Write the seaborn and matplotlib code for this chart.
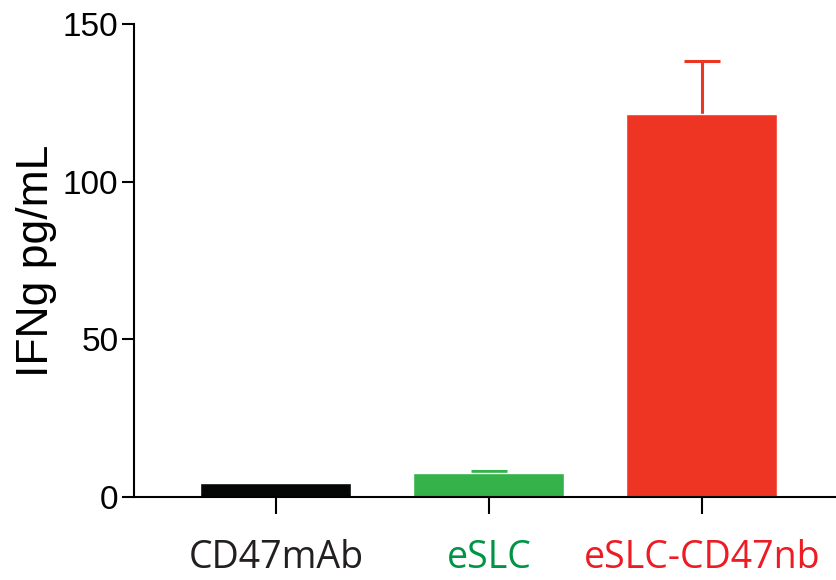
import matplotlib
matplotlib.use("Agg")
import matplotlib.pyplot as plt
import seaborn as sns
import pandas as pd
import numpy as np

groups = ["CD47mAb", "eSLC", "eSLC-CD47nb"]
ifng_mean = [4.6, 7.7, 121.5]
ifng_err = [0.0, 0.6, 16.8]
bar_colors = ["#050706", "#35b34a", "#ee3524"]
label_colors = ["#231f20", "#009444", "#ed1c24"]

df = pd.DataFrame({"group": groups, "ifng": ifng_mean})

sns.set_style("ticks", {"axes.edgecolor": "black", "text.color": "black",
                        "xtick.color": "black", "ytick.color": "black",
                        "axes.labelcolor": "black"})
fig = plt.figure(figsize=(8.36, 5.8), dpi=100)
ax = fig.add_axes([0.160, 0.143, 0.840, 0.816])

sns.barplot(data=df, x="group", y="ifng", hue="group", palette=bar_colors,
            width=0.71, legend=False, ax=ax, saturation=1, zorder=2)

x = np.arange(len(groups))
for i in range(len(groups)):
    if ifng_err[i] > 0:
        eb = ax.errorbar(x[i], ifng_mean[i], yerr=[[0], [ifng_err[i]]], fmt="none",
                         ecolor=bar_colors[i], elinewidth=2.2, capsize=13.3,
                         capthick=2.2, zorder=1)
        # only the upper cap is shown, the lower one sits on the bar
        eb[1][0].set_visible(False)

ax.set_ylim(0, 150)
ax.set_xlim(-0.667, 2.63)
ax.set_yticks([0, 50, 100, 150])
ax.set_ylabel("IFNg pg/mL", fontsize=32, family="Liberation Sans", labelpad=4)
ax.set_xlabel("")
for lbl in ax.get_yticklabels():
    lbl.set_fontsize(24)
    lbl.set_family("Liberation Sans")
ax.set_xticks(x)
ax.set_xticklabels(groups, fontsize=27, family="Open Sans")
for lbl, c in zip(ax.get_xticklabels(), label_colors):
    lbl.set_color(c)

ax.tick_params(axis="y", length=9, width=1.5, pad=2)
ax.tick_params(axis="x", length=12, width=1.5, pad=18)
for s in ["left", "bottom"]:
    ax.spines[s].set_linewidth(1.5)
sns.despine(ax=ax)

fig.savefig("out.png", dpi=100)
